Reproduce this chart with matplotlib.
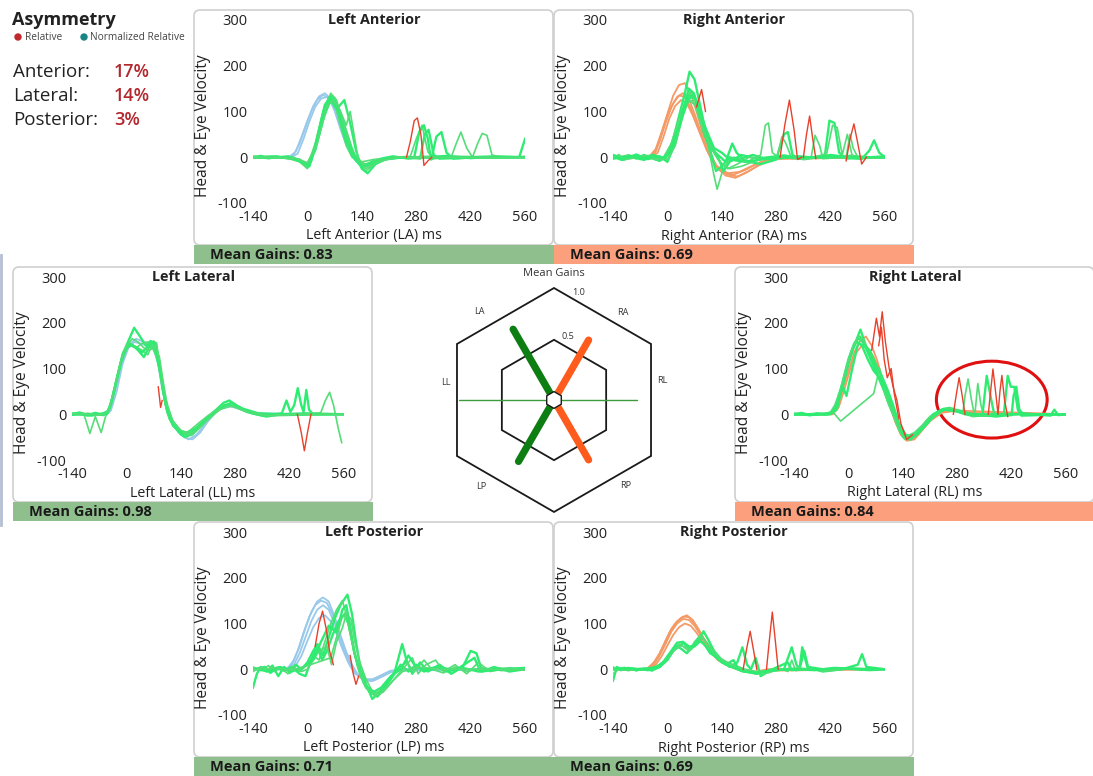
import matplotlib
matplotlib.use('Agg')
import matplotlib.pyplot as plt
from matplotlib.patches import FancyBboxPatch, Rectangle, Ellipse, Polygon, Circle
import numpy as np

plt.rcParams['font.family'] = ['Open Sans', 'DejaVu Sans']
plt.rcParams['axes.unicode_minus'] = False

# ---------------- data ----------------
X_TICKS = [-140, 0, 140, 280, 420, 560]
Y_TICKS = [-100, 0, 100, 200, 300]

GAIN_LA, GAIN_RA, GAIN_LL, GAIN_RL, GAIN_LP, GAIN_RP = 0.83, 0.69, 0.98, 0.84, 0.71, 0.69

ASYM_LABELS = ['Anterior:', 'Lateral:', 'Posterior:']
ASYM_VALUES = ['17%', '14%', '3%']

LA_HEAD = [
    [(-140,0),(-60,0),(-45,2),(-30,12),(-15,45),(0,80),(15,112),(30,133),(45,140),(60,128),(75,95),(90,55),(105,20),(120,-2),(135,-15),(150,-20),(170,-14),(200,-5),(240,0),(560,0)],
    [(-140,0),(-50,0),(-35,6),(-20,30),(-5,65),(10,100),(25,125),(40,136),(55,130),(70,102),(85,62),(100,28),(115,3),(130,-12),(150,-18),(175,-12),(210,-3),(260,0),(560,0)],
    [(-140,0),(-40,0),(-25,8),(-10,40),(5,78),(20,110),(35,128),(50,132),(65,115),(80,78),(95,40),(110,10),(125,-8),(145,-16),(170,-10),(210,-2),(560,0)],
]
LA_EYE = [
    [(-140,0),(-120,3),(-100,-2),(-80,2),(-60,-1),(-40,-3),(-20,-8),(0,-22),(10,-8),(20,22),(35,78),(50,120),(60,130),(75,115),(90,75),(105,35),(120,5),(135,-15),(150,-20),(170,-8),(190,-3),(220,2),(260,-3),(300,0),(360,3),(420,-2),(480,2),(560,0)],
    [(-140,-2),(-100,1),(-60,0),(-20,-10),(0,-25),(15,5),(30,55),(45,110),(60,135),(70,130),(85,100),(100,60),(115,20),(130,-10),(150,-30),(165,-20),(185,-5),(220,0),(265,2),(280,40),(295,70),(310,12),(325,-3),(400,0),(480,-2),(560,2)],
    [(-140,0),(-90,2),(-60,-1),(-20,-5),(0,-18),(20,20),(40,85),(60,125),(75,105),(95,125),(110,75),(125,15),(140,-25),(155,-35),(175,-15),(200,-5),(240,0),(320,0),(332,45),(345,55),(358,10),(375,-3),(450,1),(560,0)],
    [(-140,2),(-80,-1),(-30,-4),(0,-20),(20,30),(40,100),(55,132),(70,118),(85,70),(100,25),(115,0),(140,-10),(170,-5),(220,-2),(300,2),(370,0),(383,30),(395,55),(410,20),(425,0),(438,30),(450,52),(462,48),(475,5),(500,0),(560,0)],
    [(-140,0),(-40,0),(0,-15),(20,15),(40,80),(55,120),(70,128),(85,95),(100,45),(120,5),(140,-20),(160,-15),(200,-3),(260,0),(290,-3),(302,50),(312,60),(325,5),(340,-3),(450,0),(545,0),(560,40)],
    [(-140,-1),(-60,1),(-20,-5),(0,-20),(20,15),(40,90),(60,140),(75,125),(90,80),(105,30),(125,-5),(150,-15),(180,-5),(240,0),(300,-2),(380,2),(560,0)],
    [(-140,1),(-100,-2),(-50,2),(-10,-12),(5,-20),(25,40),(45,115),(62,132),(80,100),(98,40),(118,0),(140,-22),(165,-12),(210,-2),(275,0),(288,55),(300,70),(310,40),(318,-5),(330,0),(560,0)],
    [(-140,0),(-30,-2),(0,-12),(25,30),(50,110),(65,125),(80,110),(100,70),(110,100),(118,60),(130,0),(150,-25),(180,-10),(230,0),(560,-1)],
]
LA_RED = [
    [(255,0),(265,35),(275,80),(283,86),(292,50),(300,-18),(310,-8),(320,0)],
]

RA_HEAD = [
    [(-140,0),(-60,0),(-45,3),(-30,18),(-15,55),(0,95),(15,135),(30,158),(45,162),(60,140),(75,100),(90,55),(110,10),(130,-25),(150,-40),(175,-45),(200,-35),(230,-20),(260,-8),(300,0),(560,0)],
    [(-140,0),(-40,0),(-25,10),(-10,45),(5,85),(20,112),(35,125),(50,118),(65,92),(85,50),(105,10),(125,-18),(155,-35),(185,-32),(220,-18),(270,-4),(560,0)],
    [(-140,0),(-50,0),(-35,8),(-20,35),(-5,75),(10,110),(25,132),(40,140),(55,128),(70,95),(90,45),(110,2),(130,-25),(155,-38),(180,-42),(210,-30),(245,-12),(290,0),(560,0)],
    [(-140,0),(-45,0),(-30,12),(-15,50),(0,88),(15,118),(30,135),(45,132),(60,108),(80,62),(100,18),(120,-15),(145,-32),(170,-38),(200,-28),(240,-10),(280,0),(560,0)],
]
RA_EYE = [
    [(-140,3),(-120,-5),(-100,4),(-80,-3),(-60,5),(-40,-2),(-20,-8),(0,5),(15,40),(30,90),(45,140),(57,187),(70,170),(85,110),(100,50),(115,0),(125,-30),(140,-20),(160,0),(180,-5),(220,5),(250,-3),(300,2),(350,-4),(420,3),(480,-2),(560,0)],
    [(-140,-4),(-125,6),(-110,-6),(-90,2),(-70,-5),(-50,4),(-30,-6),(-10,0),(10,30),(30,85),(50,130),(62,145),(75,120),(90,70),(105,25),(120,-40),(128,-70),(140,-35),(155,-10),(170,0),(210,-8),(240,5),(252,70),(260,75),(270,10),(290,-3),(340,3),(400,-2),(470,4),(560,-2)],
    [(-140,5),(-110,-3),(-80,6),(-50,-4),(-20,2),(0,-10),(20,30),(40,100),(55,150),(68,140),(80,95),(95,50),(110,20),(130,5),(150,-10),(167,30),(178,10),(200,-8),(240,-15),(280,-5),(300,50),(310,55),(322,5),(340,-3),(405,2),(417,80),(430,75),(442,10),(460,-3),(560,2)],
    [(-140,-2),(-100,5),(-70,-4),(-40,6),(-10,-3),(10,20),(30,70),(50,118),(65,125),(80,100),(100,45),(120,10),(140,-15),(160,-25),(190,-20),(220,-10),(260,0),(280,-5),(295,45),(305,30),(320,-3),(370,0),(380,48),(392,25),(400,-3),(460,0),(470,50),(478,20),(490,0),(560,0)],
    [(-140,2),(-115,-6),(-95,3),(-60,-6),(-35,5),(-15,-5),(5,10),(25,55),(45,110),(60,132),(72,128),(90,80),(110,30),(130,0),(145,-30),(160,-10),(190,5),(230,-3),(300,4),(350,-3),(420,5),(500,-4),(520,15),(532,37),(545,10),(560,0)],
    [(-140,0),(-100,-4),(-60,3),(-30,-4),(0,-5),(20,25),(40,90),(55,125),(70,115),(90,65),(110,25),(130,-5),(155,-25),(180,-15),(210,0),(250,-5),(300,0),(355,-5),(410,8),(425,70),(437,65),(450,5),(463,50),(475,5),(500,-3),(560,0)],
    [(-140,-3),(-90,2),(-60,-2),(-30,3),(-5,-2),(15,25),(35,80),(55,135),(70,135),(85,95),(100,60),(120,20),(140,10),(160,-5),(200,-10),(250,-4),(320,0),(560,0)],
]
RA_RED = [
    [(75,110),(88,148),(98,100)],
    [(290,0),(302,70),(314,125),(326,60),(335,-5),(345,0)],
    [(350,0),(358,50),(366,90),(374,40),(382,-3)],
    [(460,-8),(470,40),(480,73),(490,30),(500,-15),(512,0)],
]

LL_HEAD = [
    [(-140,0),(-55,0),(-45,5),(-35,30),(-20,85),(-5,130),(10,155),(25,165),(40,160),(55,155),(70,150),(80,120),(90,70),(100,25),(115,-15),(135,-40),(155,-52),(170,-55),(190,-40),(210,-15),(230,5),(255,18),(280,15),(310,5),(350,0),(560,0)],
    [(-140,0),(-50,0),(-40,8),(-25,50),(-10,110),(5,145),(20,158),(35,155),(55,150),(70,145),(82,110),(92,55),(105,10),(120,-25),(140,-45),(160,-55),(180,-45),(205,-20),(230,5),(260,20),(290,12),(330,2),(560,0)],
]
LL_EYE = [
    [(-140,0),(-120,4),(-100,-3),(-80,3),(-60,-2),(-50,3),(-40,20),(-25,75),(-10,130),(5,160),(20,189),(35,170),(50,150),(62,160),(75,155),(85,110),(95,50),(105,5),(120,-25),(140,-40),(155,-45),(175,-35),(200,-15),(225,5),(250,25),(265,30),(290,15),(320,3),(360,-5),(400,0),(460,2),(560,0)],
    [(-140,-2),(-110,2),(-94,-42),(-80,-5),(-65,-40),(-52,0),(-40,25),(-25,80),(-10,125),(5,148),(20,150),(40,140),(55,130),(70,160),(78,155),(88,90),(98,30),(110,-10),(130,-35),(150,-50),(170,-45),(195,-25),(220,0),(250,20),(275,25),(300,10),(330,0),(380,-3),(560,0)],
    [(-140,2),(-90,-3),(-60,2),(-45,8),(-30,55),(-15,110),(0,145),(15,152),(30,140),(45,125),(60,150),(72,145),(85,100),(100,35),(115,-10),(135,-35),(155,-40),(180,-30),(205,-10),(230,8),(255,20),(280,18),(310,5),(350,-3),(400,2),(412,30),(422,5),(432,20),(441,57),(450,20),(456,5),(463,53),(470,10),(480,0),(560,0)],
    [(-140,0),(-100,2),(-70,-2),(-48,2),(-35,40),(-20,95),(-5,140),(10,150),(25,145),(40,155),(55,158),(70,140),(80,120),(92,60),(102,15),(118,-20),(140,-45),(160,-38),(185,-20),(210,-3),(240,15),(265,22),(295,10),(340,0),(420,-2),(500,3),(512,30),(523,48),(533,20),(545,-30),(554,-62)],
    [(-140,-1),(-80,1),(-50,0),(-38,30),(-22,88),(-8,135),(8,155),(25,145),(40,135),(55,148),(68,158),(80,130),(90,80),(100,25),(115,-15),(135,-38),(150,-50),(168,-42),(190,-25),(215,-5),(245,15),(270,25),(300,12),(340,2),(400,0),(560,0)],
    [(-140,1),(-60,-1),(-45,10),(-30,60),(-15,115),(0,150),(15,165),(30,158),(45,145),(60,140),(75,150),(85,125),(95,70),(105,20),(120,-15),(140,-35),(160,-45),(180,-35),(210,-12),(240,10),(270,18),(310,6),(360,-3),(440,0),(560,0)],
]
LL_RED = [
    [(82,60),(88,15),(92,30)],
    [(440,0),(450,-40),(458,-80),(466,-40),(475,0)],
]

RL_HEAD = [
    [(-140,0),(-50,0),(-35,10),(-20,40),(0,95),(15,135),(30,160),(45,170),(60,150),(75,115),(90,70),(105,25),(120,-15),(135,-45),(150,-58),(170,-55),(190,-35),(215,-10),(240,5),(270,10),(310,3),(560,0)],
    [(-140,0),(-40,0),(-25,15),(-10,55),(5,100),(20,135),(35,150),(50,145),(65,125),(80,95),(95,50),(110,10),(125,-25),(145,-50),(165,-52),(185,-38),(210,-15),(240,3),(280,8),(560,0)],
]
RL_EYE = [
    [(-140,0),(-120,3),(-100,-2),(-80,2),(-60,-1),(-46,2),(-30,20),(-15,60),(0,110),(15,150),(31,185),(45,150),(60,120),(75,90),(90,60),(108,30),(125,-15),(141,-50),(158,-55),(180,-40),(200,-15),(218,0),(240,10),(260,14),(285,8),(320,0),(380,-5),(450,2),(520,-3),(530,10),(540,-2),(560,0)],
    [(-140,2),(-90,-2),(-50,0),(-35,15),(-20,50),(-5,100),(10,140),(25,165),(40,155),(55,130),(70,100),(85,70),(100,40),(115,5),(130,-30),(148,-50),(165,-45),(185,-30),(210,-5),(240,8),(265,12),(295,5),(300,40),(308,77),(317,30),(325,-5),(333,67),(341,20),(349,-3),(400,0),(560,0)],
    [(-140,-1),(-70,1),(-45,0),(-30,25),(-15,70),(0,120),(15,155),(30,170),(45,145),(60,115),(75,85),(90,55),(105,20),(120,-10),(135,-40),(150,-52),(170,-48),(195,-25),(220,0),(245,12),(270,10),(300,0),(345,-2),(356,84),(368,30),(376,-3),(400,0),(410,84),(418,60),(427,60),(436,10),(445,-3),(560,0)],
    [(-140,0),(-60,2),(-40,5),(-20,-15),(65,45),(80,100),(90,60),(100,30),(115,0),(130,-35),(145,-55),(165,-50),(190,-30),(215,-5),(245,10),(280,5),(320,-5),(400,0),(560,0)],
    [(-140,1),(-100,-2),(-60,1),(-40,5),(-25,30),(-10,80),(5,130),(20,160),(35,150),(50,120),(65,95),(80,80),(95,55),(110,25),(125,-10),(140,-45),(160,-55),(180,-42),(205,-18),(230,5),(255,12),(285,5),(330,-3),(420,-2),(425,40),(432,60),(440,10),(450,0),(560,0)],
    [(-140,0),(-80,0),(-48,2),(-35,20),(-20,55),(-5,105),(10,145),(25,170),(40,160),(55,135),(70,110),(85,85),(100,50),(115,15),(130,-25),(150,-48),(170,-40),(195,-20),(225,0),(255,14),(290,6),(340,-4),(380,0),(560,0)],
    [(-140,0),(-50,0),(-30,10),(-15,62),(-5,40),(10,100),(25,155),(40,150),(55,140),(70,110),(85,85),(100,55),(115,20),(130,-20),(148,-45),(165,-50),(190,-32),(215,-8),(245,10),(275,8),(310,0),(560,0)],
]
RL_RED = [
    [(60,140),(72,210),(80,170),(87,224),(95,160),(105,100),(115,60),(125,30),(135,-20),(150,-55),(165,-45)],
    [(78,150),(85,190),(92,120),(100,80),(110,100),(118,45),(130,-10)],
    [(270,0),(278,45),(285,80),(293,40),(300,0)],
    [(360,0),(366,50),(372,99),(380,40),(385,0),(390,50),(395,85),(402,30),(410,-5)],
]

LP_HEAD = [
    [(-140,0),(-60,0),(-50,3),(-35,20),(-20,50),(-5,90),(10,125),(25,148),(40,157),(55,148),(70,115),(85,75),(100,38),(115,10),(130,-12),(150,-24),(165,-26),(185,-18),(210,-5),(240,0),(560,0)],
    [(-140,0),(-50,0),(-35,10),(-20,35),(-5,70),(10,105),(25,130),(40,140),(55,130),(70,100),(85,62),(100,28),(115,2),(135,-18),(160,-25),(185,-15),(215,-3),(560,0)],
    [(-140,0),(-45,0),(-30,8),(-15,30),(0,62),(15,92),(30,112),(45,118),(60,105),(75,78),(90,45),(105,15),(120,-8),(145,-22),(170,-22),(200,-10),(240,0),(560,0)],
    [(-140,0),(-55,0),(-40,10),(-25,40),(-10,80),(5,115),(20,140),(35,150),(50,145),(65,120),(80,82),(95,45),(110,15),(125,-8),(145,-20),(170,-25),(195,-15),(230,0),(560,0)],
]
LP_EYE = [
    [(-140,-40),(-130,-10),(-120,5),(-105,-5),(-90,8),(-75,-15),(-60,5),(-45,-8),(-30,10),(-15,0),(0,15),(15,40),(26,55),(40,30),(55,70),(70,110),(85,140),(103,163),(115,120),(125,60),(135,10),(150,-30),(167,-65),(185,-50),(205,-30),(225,-5),(244,55),(255,20),(270,-10),(290,15),(310,-5),(340,10),(370,-10),(400,5),(420,40),(435,35),(450,-5),(480,5),(520,-5),(560,0)],
    [(-140,5),(-120,-3),(-100,8),(-85,-5),(-70,3),(-50,-10),(-35,5),(-20,-5),(0,10),(15,30),(30,20),(45,60),(60,100),(75,130),(90,150),(100,120),(110,80),(122,30),(135,-10),(150,-40),(170,-55),(190,-45),(210,-20),(230,0),(255,15),(275,-5),(300,20),(320,0),(350,-8),(380,5),(410,-5),(450,3),(500,-3),(560,0)],
    [(-140,0),(-110,5),(-95,-8),(-80,3),(-60,-3),(-40,5),(-20,-10),(-5,-15),(10,20),(25,50),(38,20),(50,40),(65,75),(80,105),(95,120),(105,100),(118,50),(130,5),(145,-30),(160,-50),(180,-60),(200,-40),(220,-15),(240,10),(260,-5),(280,10),(300,-3),(330,5),(360,-5),(400,3),(440,-5),(480,2),(560,0)],
    [(-140,-5),(-120,5),(-100,-2),(-75,5),(-55,-3),(-35,3),(-15,-5),(0,0),(30,40),(50,50),(62,10),(75,60),(90,90),(100,120),(112,110),(122,60),(135,15),(150,-20),(165,-45),(185,-55),(205,-40),(225,-20),(250,5),(270,25),(285,-10),(305,10),(330,20),(350,-5),(380,10),(410,-10),(440,15),(470,-5),(520,3),(560,-2)],
    [(-140,2),(-100,-5),(-70,5),(-40,-5),(-10,5),(15,20),(35,60),(55,95),(75,80),(90,130),(100,140),(110,95),(120,40),(135,-5),(150,-35),(170,-50),(190,-40),(215,-15),(240,0),(260,30),(275,10),(300,-5),(340,5),(380,-3),(430,25),(445,-5),(500,0),(560,3)],
    [(-140,0),(-80,2),(-40,-2),(-10,5),(60,25),(75,70),(88,110),(98,125),(108,90),(120,35),(135,-5),(150,-40),(175,-58),(195,-50),(220,-25),(245,-5),(280,5),(350,0),(560,0)],
]
LP_RED = [
    [(20,50),(30,100),(39,127),(48,90),(57,40),(67,10)],
    [(110,30),(118,-10),(125,-33),(132,-15)],
]

RP_HEAD = [
    [(-140,0),(-60,0),(-50,3),(-35,15),(-20,35),(-5,62),(10,88),(25,105),(40,115),(55,114),(70,100),(85,80),(100,58),(120,35),(140,18),(160,8),(180,2),(200,-2),(225,-6),(250,-3),(300,0),(560,0)],
    [(-140,0),(-50,0),(-35,10),(-20,30),(-5,55),(10,82),(25,100),(40,110),(55,108),(70,95),(85,75),(100,52),(120,30),(140,15),(165,5),(195,-5),(230,-8),(270,-3),(560,0)],
    [(-140,0),(-55,0),(-40,8),(-25,25),(-10,52),(5,80),(20,100),(35,112),(50,118),(65,108),(80,88),(95,65),(115,40),(135,22),(160,8),(190,-3),(230,-10),(280,0),(560,0)],
    [(-140,0),(-45,0),(-30,10),(-15,28),(0,52),(15,75),(30,92),(45,100),(60,95),(75,80),(90,60),(110,38),(130,20),(155,8),(185,-2),(220,-6),(260,0),(560,0)],
]
RP_EYE = [
    [(-140,-25),(-130,5),(-120,0),(-100,3),(-80,-2),(-60,2),(-40,-3),(-20,5),(0,20),(15,40),(30,50),(41,58),(55,45),(70,55),(85,70),(93,83),(105,65),(120,40),(140,20),(160,5),(180,15),(193,48),(205,10),(215,0),(227,25),(240,-15),(260,-5),(300,0),(320,48),(332,10),(340,0),(347,48),(360,5),(400,-5),(450,0),(490,10),(501,33),(512,5),(560,0)],
    [(-140,5),(-120,-3),(-100,2),(-80,-3),(-60,1),(-40,0),(-20,10),(0,25),(15,45),(30,55),(40,50),(55,40),(70,60),(85,75),(100,60),(115,40),(135,25),(155,15),(175,8),(200,0),(230,-5),(260,-8),(290,2),(310,-5),(320,20),(330,-3),(360,0),(420,-3),(480,2),(560,0)],
    [(-140,0),(-110,3),(-80,-2),(-50,2),(-30,5),(-10,15),(10,35),(25,50),(35,45),(50,35),(65,50),(80,65),(95,55),(110,35),(130,25),(150,10),(170,20),(180,5),(200,-5),(230,-10),(270,0),(310,15),(320,-2),(340,0),(352,40),(362,5),(400,0),(450,2),(520,-2),(560,0)],
    [(-140,-10),(-125,0),(-100,-3),(-70,2),(-45,-2),(-20,5),(5,28),(20,45),(35,52),(48,48),(60,42),(75,55),(90,68),(105,55),(125,30),(145,15),(165,8),(190,0),(220,-8),(250,-3),(290,0),(340,3),(400,-4),(470,2),(560,0)],
    [(-140,0),(-90,2),(-50,-2),(-20,5),(10,40),(25,58),(40,60),(55,50),(70,50),(85,62),(100,50),(120,30),(140,15),(165,5),(195,-5),(230,-8),(270,-2),(330,0),(380,-2),(430,3),(500,0),(560,0)],
]
RP_RED = [
    [(195,0),(204,45),(213,83),(222,40),(230,0)],
    [(255,0),(262,60),(270,125),(278,60),(285,0)],
]

# ---------------- styling ----------------
W, H = 1093, 776
GREEN_BAR = '#8fbf8c'
ORANGE_BAR = '#fb9f7c'
HEAD_BLUE = '#98c9ea'
HEAD_ORANGE = '#f49a66'
EYE_GREENS = ['#2eec72', '#55dd78']
RED = '#e8402a'
TXT = '#222222'

PANELS = [
    dict(title='Left Anterior', xlabel='Left Anterior (LA) ms', bx=194, by=10, gain=GAIN_LA, bar=GREEN_BAR,
         head=LA_HEAD, hcol=HEAD_BLUE, eye=LA_EYE, red=LA_RED),
    dict(title='Right Anterior', xlabel='Right Anterior (RA) ms', bx=554, by=10, gain=GAIN_RA, bar=ORANGE_BAR,
         head=RA_HEAD, hcol=HEAD_ORANGE, eye=RA_EYE, red=RA_RED),
    dict(title='Left Lateral', xlabel='Left Lateral (LL) ms', bx=13, by=267, gain=GAIN_LL, bar=GREEN_BAR,
         head=LL_HEAD, hcol=HEAD_BLUE, eye=LL_EYE, red=LL_RED),
    dict(title='Right Lateral', xlabel='Right Lateral (RL) ms', bx=735, by=267, gain=GAIN_RL, bar=ORANGE_BAR,
         head=RL_HEAD, hcol=HEAD_ORANGE, eye=RL_EYE, red=RL_RED),
    dict(title='Left Posterior', xlabel='Left Posterior (LP) ms', bx=194, by=522, gain=GAIN_LP, bar=GREEN_BAR,
         head=LP_HEAD, hcol=HEAD_BLUE, eye=LP_EYE, red=LP_RED),
    dict(title='Right Posterior', xlabel='Right Posterior (RP) ms', bx=554, by=522, gain=GAIN_RP, bar=GREEN_BAR,
         head=RP_HEAD, hcol=HEAD_ORANGE, eye=RP_EYE, red=RP_RED),
]


def rect(x0, y0, x1, y1):
    return [x0 / W, 1 - y1 / H, (x1 - x0) / W, (y1 - y0) / H]


fig = plt.figure(figsize=(W / 100, H / 100), dpi=100)
fig.patch.set_facecolor('white')

bg = fig.add_axes([0, 0, 1, 1], zorder=0)
bg.set_xlim(0, W)
bg.set_ylim(H, 0)
bg.axis('off')

# left edge line
bg.plot([1.2, 1.2], [255, 525], color='#b3bfd3', lw=2)

# Asymmetry block
bg.text(12, 20, 'Asymmetry', fontsize=13, weight='bold', color=TXT, va='center', ha='left')
bg.add_patch(Circle((18, 37), 3.0, color='#c0282d'))
bg.text(25, 37, 'Relative', fontsize=7.3, color='#444444', va='center', ha='left')
bg.add_patch(Circle((84, 37), 3.0, color='#178585'))
bg.text(90, 37, 'Normalized Relative', fontsize=7.3, color='#444444', va='center', ha='left')
for i, (lab, val) in enumerate(zip(ASYM_LABELS, ASYM_VALUES)):
    y = 72 + 24 * i
    bg.text(13, y, lab, fontsize=13.5, color=TXT, va='center', ha='left')
    bg.text(114, y, val, fontsize=13, color='#b3282e', weight='semibold', va='center', ha='left')

# panels
for p in PANELS:
    bx, by = p['bx'], p['by']
    bg.add_patch(FancyBboxPatch((bx, by), 359, 235, boxstyle='round,pad=0,rounding_size=6',
                                fc='white', ec='#cfcfcf', lw=1.2))
    bg.add_patch(Rectangle((bx, by + 235), 360, 19, fc=p['bar'], ec='none'))
    bg.text(bx + 16, by + 245, 'Mean Gains: %.2f' % p['gain'], fontsize=10.5, weight='bold',
            color='#1a1a1a', va='center', ha='left')
    bg.text(bx + 180, by + 10, p['title'], fontsize=10.4, weight='bold', color=TXT, va='center', ha='center')
    bg.text(bx + 180, by + 226, p['xlabel'], fontsize=10.3, color=TXT, va='center', ha='center')
    bg.text(bx + 9, by + 116, 'Head & Eye Velocity', fontsize=11.2, color=TXT, va='center', ha='center',
            rotation=90)

    ax = fig.add_axes(rect(bx + 59, by + 10, bx + 331, by + 193), zorder=2)
    ax.set_facecolor('none')
    ax.set_xlim(-140, 560)
    ax.set_ylim(-100, 300)
    for s in ax.spines.values():
        s.set_visible(False)
    ax.set_xticks(X_TICKS)
    ax.set_yticks(Y_TICKS)
    ax.set_xticklabels([str(v) for v in X_TICKS])
    ax.set_yticklabels([str(v) for v in Y_TICKS])
    ax.tick_params(length=0, labelsize=10.5, labelcolor=TXT)
    ax.tick_params(axis='x', pad=5)
    ax.tick_params(axis='y', pad=4)

    for tr in p['head']:
        t, v = zip(*tr)
        ax.plot(t, v, color=p['hcol'], lw=1.3)
    for i, tr in enumerate(p['eye']):
        t, v = zip(*tr)
        ax.plot(t, v, color=EYE_GREENS[i % 2], lw=1.7 if i % 2 == 0 else 1.2, solid_joinstyle='round')
    for tr in p['red']:
        t, v = zip(*tr)
        ax.plot(t, v, color=RED, lw=1.0)
    if p['title'] == 'Right Lateral':
        ax.add_patch(Ellipse((369, 32), 285, 168, fill=False, ec='#e01010', lw=2.2, clip_on=False))

# ---------------- mean gains hexagon chart ----------------
pax = fig.add_axes(rect(440, 268, 668, 515), zorder=2)
pax.set_xlim(-1.175, 1.175)
pax.set_ylim(-1.186, 1.361)
pax.axis('off')

R0 = 0.075


def rad(v):
    return R0 + (1 - R0) * v


def hexagon(apothem):
    R = apothem / np.cos(np.pi / 6)
    ang = np.deg2rad([90, 150, 210, 270, 330, 30])
    return np.column_stack([R * np.cos(ang), R * np.sin(ang)])


pax.add_patch(Polygon(hexagon(1.0), closed=True, fill=False, ec='#1a1a1a', lw=1.3))
pax.add_patch(Polygon(hexagon(rad(0.5)), closed=True, fill=False, ec='#1a1a1a', lw=1.3))

GAIN_DIRS = [('RL', 0, GAIN_RL), ('RA', 60, GAIN_RA), ('LA', 120, GAIN_LA),
             ('LL', 180, GAIN_LL), ('LP', 240, GAIN_LP), ('RP', 300, GAIN_RP)]
BAR_STYLE = {'LA': ('#0e7d12', 5.2), 'LP': ('#0e7d12', 5.2), 'RA': ('#ff5b1c', 5.2),
             'RP': ('#ff5b1c', 5.2), 'LL': ('#3d9a3d', 1.0), 'RL': ('#3d9a3d', 1.0)}
for name, ang, g in GAIN_DIRS:
    a = np.deg2rad(ang)
    col, lw = BAR_STYLE[name]
    pax.plot([R0 * np.cos(a), rad(g) * np.cos(a)], [R0 * np.sin(a), rad(g) * np.sin(a)],
             color=col, lw=lw, solid_capstyle='round')

pax.add_patch(Polygon(hexagon(R0), closed=True, fc='white', ec='#1a1a1a', lw=1.0, zorder=5))

LABEL_POS = [('LA', 130, 1.19), ('RA', 52, 1.15), ('RL', 10, 1.13), ('LL', 171, 1.13),
             ('LP', 230, 1.17), ('RP', 310, 1.15)]
for name, ang, r in LABEL_POS:
    a = np.deg2rad(ang)
    pax.text(r * np.cos(a), r * np.sin(a), name, fontsize=6.6, color='#333333', ha='center', va='center')
pax.text(0, 1.30, 'Mean Gains', fontsize=8, color='#333333', ha='center', va='center')
pax.text(0.25, 1.11, '1.0', fontsize=6.6, color='#333333', ha='center', va='center')
pax.text(0.145, 0.65, '0.5', fontsize=6.6, color='#333333', ha='center', va='center')

fig.savefig('out.png', dpi=100, facecolor='white')
